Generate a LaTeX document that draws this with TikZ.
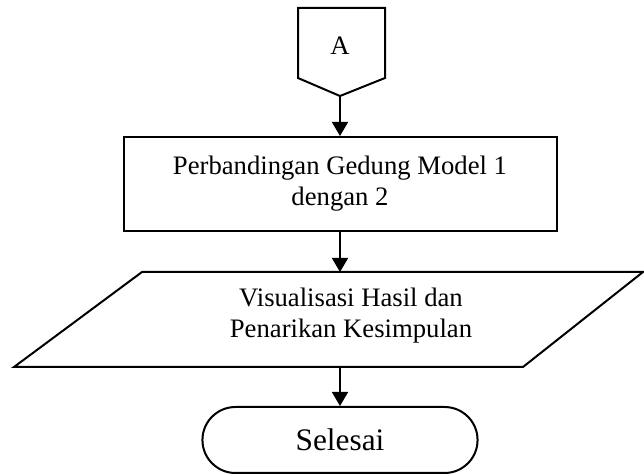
\documentclass[tikz,border=0pt]{standalone}
\usepackage{fontspec}
\setmainfont{Liberation Serif}
\usetikzlibrary{arrows.meta,shapes.misc,positioning}

\begin{document}
\begin{tikzpicture}
[x=0.75pt,y=-0.75pt,line width=1.5pt,
 every node/.style={font=\fontsize{20}{23.25}\selectfont,align=center},
 flow/.style={-{Triangle[length=10.5pt,width=12pt]},line width=1.3pt}]
\useasboundingbox (0,0) rectangle (644,474);
   \draw (298,8) -- (385,8) -- (385,78) -- (340,96) -- (298,78) -- cycle;
   \node (q_a) at (340,46) {A};
   \coordinate (q_a_tip) at (340,96);
   \node[draw,minimum width=324.75pt,minimum height=70.5pt] (q_1) at (340,184) {Perbandingan Gedung Model 1\\dengan 2};
   \draw (142,272) -- (643,272) -- (523,367) -- (14,367) -- cycle;
   \node (q_2) at (351,316) {Visualisasi Hasil dan\\Penarikan Kesimpulan};
   \coordinate (q_2_top) at (340,272);
   \coordinate (q_2_bot) at (340,367);
   \node[draw,rounded rectangle,minimum width=213pt,minimum height=49.5pt,
         font=\fontsize{23.5}{28}\selectfont] (q_end) at (340,440) {Selesai};
    \draw[flow] (q_a_tip) -- (q_1.north);
    \draw[flow] (q_1.south) -- (q_2_top);
    \draw[flow] (q_2_bot) -- (q_end.north);
\end{tikzpicture}
\end{document}
